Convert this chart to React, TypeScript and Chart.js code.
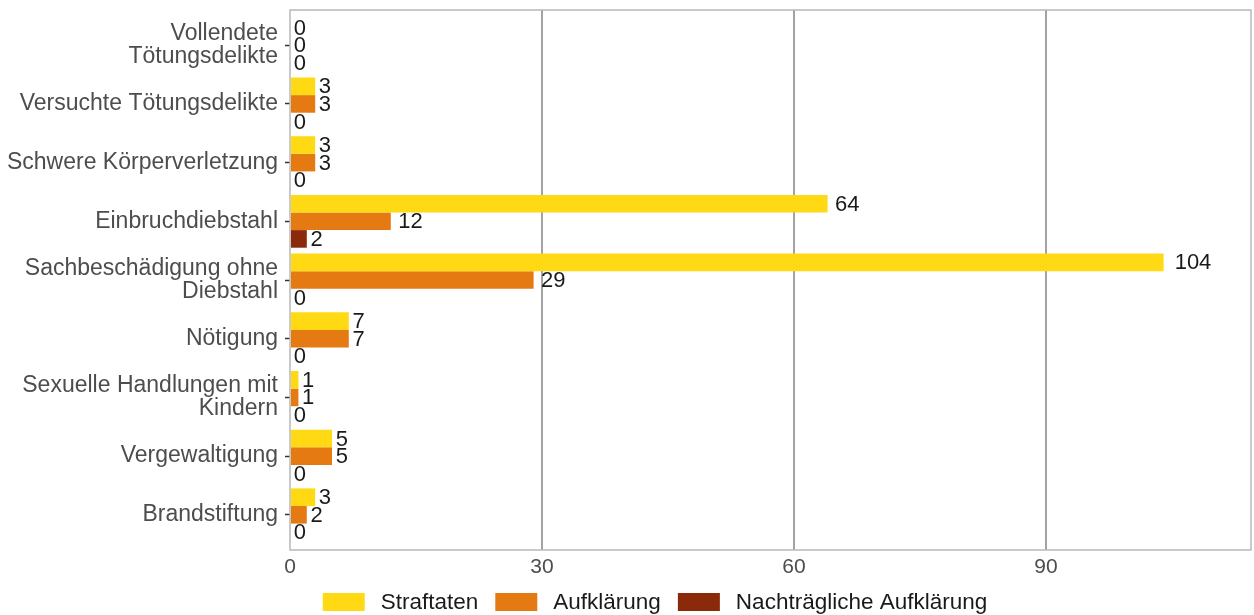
import React, { useEffect, useRef } from 'react';
import { Chart, registerables } from 'chart.js';

Chart.register(...registerables);

const categories: string[][] = [
  ['Vollendete', 'Tötungsdelikte'],
  ['Versuchte Tötungsdelikte'],
  ['Schwere Körperverletzung'],
  ['Einbruchdiebstahl'],
  ['Sachbeschädigung ohne', 'Diebstahl'],
  ['Nötigung'],
  ['Sexuelle Handlungen mit', 'Kindern'],
  ['Vergewaltigung'],
  ['Brandstiftung'],
];
const straftaten = [0, 3, 3, 64, 104, 7, 1, 5, 3];
const aufklaerung = [0, 3, 3, 12, 29, 7, 1, 5, 2];
const nachtraeglich = [0, 0, 0, 2, 0, 0, 0, 0, 0];
const seriesNames = ['Straftaten', 'Aufklärung', 'Nachträgliche Aufklärung'];
const seriesColors = ['#FFDA14', '#E67A12', '#8B2A0A'];
const seriesValues = [straftaten, aufklaerung, nachtraeglich];
const xTicks = [0, 30, 60, 90];
const xMax = 114.4;

const FONT = '"Liberation Sans", Arial, Helvetica, sans-serif';

const valueLabels = {
  id: 'valueLabels',
  afterDatasetsDraw(chart: any) {
    const ctx = chart.ctx;
    ctx.save();
    ctx.font = `22px ${FONT}`;
    ctx.fillStyle = '#1a1a1a';
    ctx.textAlign = 'left';
    ctx.textBaseline = 'middle';
    chart.data.datasets.forEach((_ds: any, di: number) => {
      const meta = chart.getDatasetMeta(di);
      meta.data.forEach((el: any, i: number) => {
        const txt = String(seriesValues[di][i]);
        const w = ctx.measureText(txt).width;
        ctx.fillText(txt, el.x + 0.3 * w, el.y + 1);
      });
    });
    ctx.restore();
  },
};

const panelBorder = {
  id: 'panelBorder',
  afterDraw(chart: any) {
    const { ctx, chartArea: a } = chart;
    ctx.save();
    ctx.strokeStyle = '#b8b8b8';
    ctx.lineWidth = 1.5;
    ctx.strokeRect(a.left, a.top, a.right - a.left, a.bottom - a.top);
    ctx.restore();
  },
};

const customLegend = {
  id: 'customLegend',
  afterDraw(chart: any) {
    const ctx = chart.ctx;
    ctx.save();
    ctx.font = `22.5px ${FONT}`;
    ctx.textBaseline = 'middle';
    ctx.textAlign = 'left';
    const boxW = 42, boxH = 18, gap = 16, spacing = 17;
    const widths = seriesNames.map((n) => boxW + gap + ctx.measureText(n).width);
    const total = widths.reduce((a, b) => a + b, 0) + spacing * (seriesNames.length - 1);
    let x = 655 - total / 2;
    const yMid = 602;
    seriesNames.forEach((n, i) => {
      ctx.fillStyle = seriesColors[i];
      ctx.fillRect(x, yMid - boxH / 2, boxW, boxH);
      ctx.fillStyle = '#1a1a1a';
      ctx.fillText(n, x + boxW + gap, yMid + 1);
      x += widths[i] + spacing;
    });
    ctx.restore();
  },
};

export default function App() {
  const ref = useRef<HTMLCanvasElement | null>(null);

  useEffect(() => {
    document.body.style.margin = '0';
    const canvas = ref.current;
    if (!canvas) return;
    const chart = new Chart(canvas, {
      type: 'bar',
      data: {
        datasets: seriesValues.map((vals, di) => ({
          label: seriesNames[di],
          data: vals.map((v, i) => ({ x: v, y: i + 1 })),
          backgroundColor: seriesColors[di],
          borderWidth: 0,
          categoryPercentage: 0.9,
          barPercentage: 1,
        })),
      },
      options: {
        animation: false,
        responsive: false,
        devicePixelRatio: 1,
        indexAxis: 'y',
        layout: { padding: { top: 10, right: 3, left: 0, bottom: 38 } },
        plugins: {
          legend: { display: false },
          tooltip: { enabled: false },
        },
        scales: {
          y: {
            type: 'linear',
            reverse: true,
            min: 0.4,
            max: 9.6,
            bounds: 'data',
            offset: false,
            afterBuildTicks: (scale: any) => {
              scale.ticks = categories.map((_, i) => ({ value: i + 1 }));
            },
            afterFit: (scale: any) => {
              scale.width = 290;
              scale.paddingTop = 0;
              scale.paddingBottom = 0;
            },
            ticks: {
              autoSkip: false,
              padding: 7,
              color: '#4d4d4d',
              font: { family: FONT, size: 23, lineHeight: 1.0 },
              callback: (v: any) => categories[Math.round(Number(v)) - 1] || '',
            },
            grid: {
              offset: false,
              drawOnChartArea: false,
              drawTicks: true,
              tickLength: 5,
              tickColor: '#333333',
              tickWidth: 1.5,
            },
            border: { display: false },
          },
          x: {
            type: 'linear',
            min: 0,
            max: xMax,
            afterBuildTicks: (scale: any) => {
              scale.ticks = xTicks.map((v) => ({ value: v }));
            },
            afterFit: (scale: any) => {
              scale.height = 27;
            },
            ticks: {
              padding: 5,
              color: '#4d4d4d',
              font: { family: FONT, size: 21 },
              maxRotation: 0,
            },
            grid: {
              drawTicks: false,
              color: (c: any) => (c.tick && c.tick.value === 0 ? 'rgba(0,0,0,0)' : '#a3a3a3'),
              lineWidth: 2,
            },
            border: { display: false },
          },
        },
      } as any,
      plugins: [panelBorder, valueLabels, customLegend],
    });
    return () => chart.destroy();
  }, []);

  return <canvas ref={ref} width={1254} height={615} style={{ display: 'block' }} />;
}
